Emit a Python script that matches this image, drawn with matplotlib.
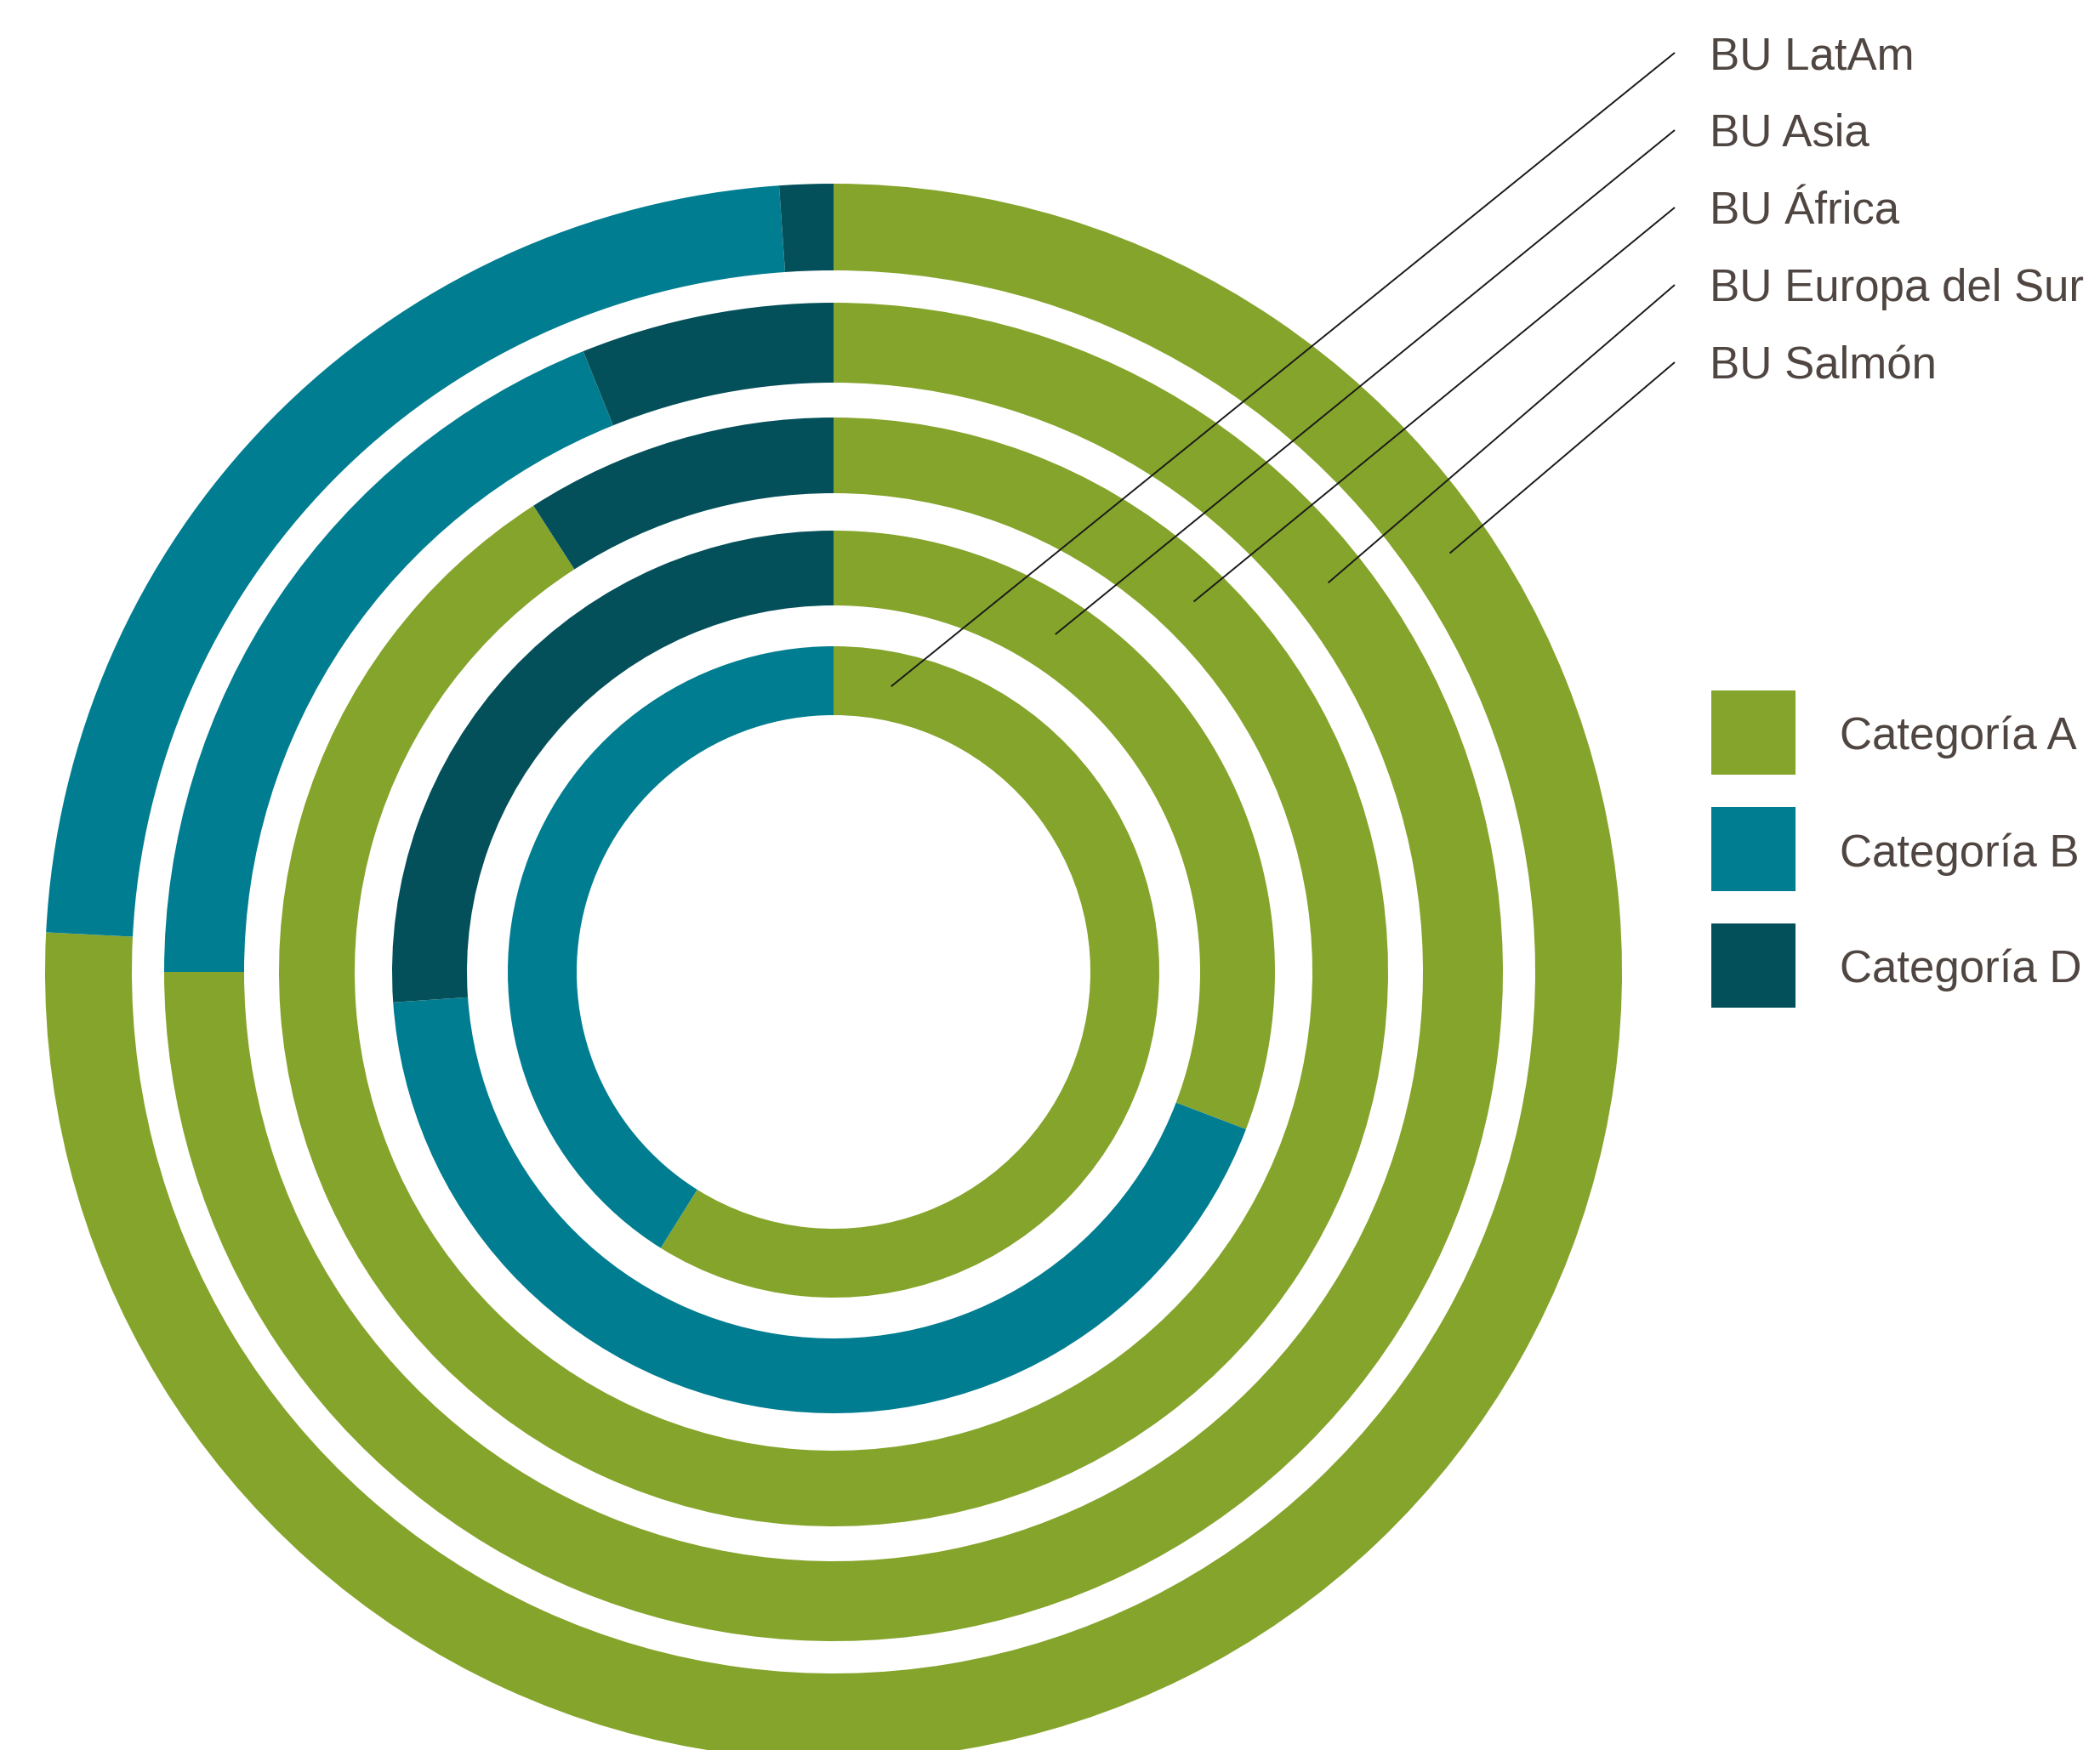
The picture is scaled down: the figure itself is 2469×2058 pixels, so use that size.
import numpy as np
import matplotlib.pyplot as plt
from matplotlib.patches import Rectangle

plt.rcParams["font.family"] = ["Liberation Sans", "DejaVu Sans"]

# share of each category per business unit (%), outermost ring first
units = ["BU Salmón", "BU Europa del Sur", "BU África", "BU Asia", "BU LatAm"]
cat_a = [75.8, 75.0, 90.9, 30.8, 58.9]
cat_b = [23.1, 18.9, 0.0, 43.1, 41.1]
cat_d = [1.1, 6.1, 9.1, 26.1, 0.0]
categories = ["Categoría A", "Categoría B", "Categoría D"]

colors = ["#85a42b", "#007d90", "#04505a"]
text_color = "#4f4541"

# layout in pixels (figure is 2469 x 2058)
W, H = 2469, 2058
cx, cy = 980, H - 1143
r_outer = [927, 787, 652, 519, 383]
r_inner = [825, 693, 563, 431, 302]
anchor_deg = [34.2, 38.2, 45.8, 56.7, 78.6]  # where each leader line touches its ring

fig = plt.figure(figsize=(W / 100, H / 100), dpi=100)
ax = fig.add_axes([0, 0, 1, 1])

for i in range(len(units)):
    vals = [cat_a[i], cat_b[i], cat_d[i]]
    ax.pie(vals, radius=r_outer[i], colors=colors, startangle=90,
           counterclock=False, center=(cx, cy),
           wedgeprops=dict(width=r_outer[i] - r_inner[i], linewidth=0))

# unit labels with leader lines (LatAm on top, Salmón at the bottom)
for k, i in enumerate(reversed(range(len(units)))):
    base = H - (81 + 91 * k)
    ax.text(2010, base, units[i], fontsize=38, color=text_color,
            ha="left", va="baseline")
    r_mid = (r_outer[i] + r_inner[i]) / 2
    a = np.deg2rad(anchor_deg[i])
    ax.plot([1969, cx + r_mid * np.cos(a)], [base + 19, cy + r_mid * np.sin(a)],
            color="#1a1a1a", lw=1.4, solid_capstyle="butt")

# legend
for k, (lab, c) in enumerate(zip(categories, colors)):
    yc = H - (861.5 + 137 * k)
    ax.add_patch(Rectangle((2012, yc - 49.5), 99, 99, facecolor=c, edgecolor="none"))
    ax.text(2163, yc - 20, lab, fontsize=38, color=text_color,
            ha="left", va="baseline")

ax.set_xlim(0, W)
ax.set_ylim(0, H)
ax.set_aspect("equal")
ax.axis("off")

fig.savefig("out.png", dpi=100)
